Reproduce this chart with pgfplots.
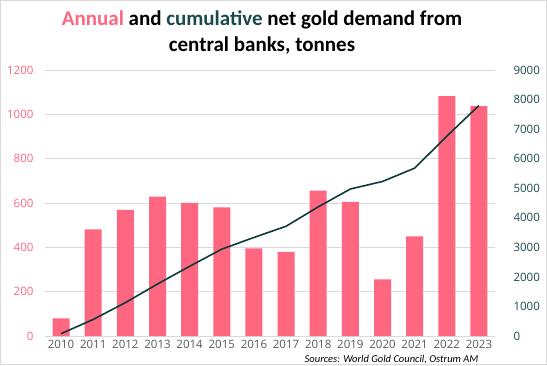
\documentclass[border=0pt]{standalone}
\usepackage{pgfplots}
\pgfplotsset{compat=1.18}
\usepackage{fontspec}
\setmainfont{Carlito}
\newfontfamily\tickfont{Open Sans}
\definecolor{pinkbar}{HTML}{FF6680}
\definecolor{tealline}{HTML}{0E3A38}
\definecolor{tealtxt}{HTML}{1A4A4C}
\definecolor{gridc}{HTML}{D9D9D9}
\definecolor{ticktxt}{HTML}{595959}
\pgfplotstableread{
x val cum
0 79 79
1 481 560
2 569 1129
3 629 1758
4 601 2359
5 580 2939
6 395 3334
7 379 3713
8 656 4369
9 605 4974
10 255 5229
11 450 5679
12 1082 6761
13 1037 7798
}\data
\begin{document}
\begin{tikzpicture}[x=1pt,y=1pt]
\draw[gridc,line width=0.8pt] (0.4,0.4) rectangle (546.6,364.6);
\useasboundingbox (0,0) rectangle (547,365);
\node[font=\bfseries\fontsize{21}{26}\selectfont,align=center] at (262,332)
  {\textcolor{pinkbar}{Annual} and \textcolor{tealtxt}{cumulative} net gold demand from\\central banks, tonnes};
\begin{axis}[
  at={(45pt,29pt)}, anchor=south west,
  scale only axis, width=450pt, height=266pt,
  xmin=-0.5, xmax=13.5, ymin=0, ymax=1200,
  ytick={0,200,...,1200},
  xtick={0,...,13},
  xticklabels={2010,2011,2012,2013,2014,2015,2016,2017,2018,2019,2020,2021,2022,2023},
  axis x line*=bottom, axis y line*=left,
  x axis line style={gridc,line width=0.8pt,-},
  y axis line style={draw=none},
  major tick length=0pt,
  ymajorgrids, grid style={gridc,line width=0.8pt},
  yticklabel style={text=pinkbar,font=\tickfont\fontsize{11.5}{13}\selectfont,xshift=-8pt},
  xticklabel style={text=ticktxt,font=\tickfont\fontsize{11.5}{13}\selectfont,yshift=-0.5pt},
  /pgf/number format/assume math mode=true,
  /pgf/number format/1000 sep={},
  ]
  \addplot[ybar, bar width=17pt, fill=pinkbar, draw=none] table[x=x,y=val] {\data};
\end{axis}
\begin{axis}[
  at={(45pt,29pt)}, anchor=south west,
  scale only axis, width=450pt, height=266pt,
  xmin=-0.5, xmax=13.5, ymin=0, ymax=9000,
  ytick={0,1000,...,9000},
  axis y line*=right, axis x line=none,
  y axis line style={draw=none},
  major tick length=0pt,
  yticklabel style={text=tealtxt,font=\tickfont\fontsize{11.5}{13}\selectfont,xshift=15pt},
  /pgf/number format/assume math mode=true,
  /pgf/number format/1000 sep={},
  ]
  \addplot[tealline, line width=1.6pt, mark=none] table[x=x,y=cum] {\data};
\end{axis}
\node[anchor=base east,font=\itshape\fontsize{10.5}{12}\selectfont] at (482,3) {Sources: World Gold Council, Ostrum AM};
\end{tikzpicture}
\end{document}
